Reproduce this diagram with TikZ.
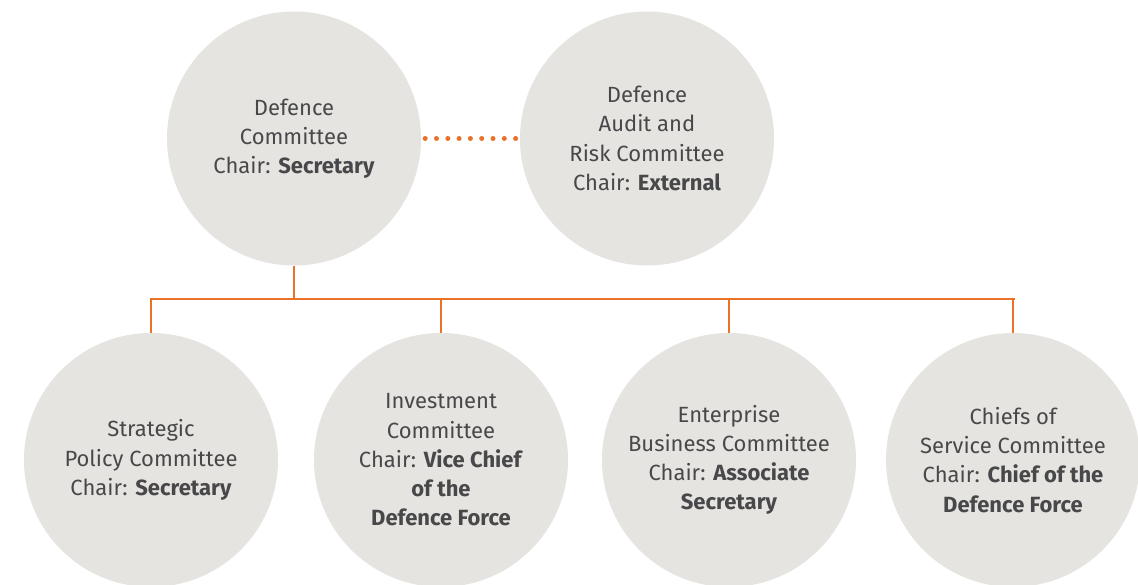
\documentclass[tikz,border=0pt]{standalone}
\usepackage{fontspec}
\setmainfont{Fira Sans}
\definecolor{circfill}{HTML}{E6E4E0}
\definecolor{txtgrey}{HTML}{48484A}
\definecolor{orgline}{HTML}{E9712A}
\tikzset{
  committee/.style={circle, fill=circfill, draw=none, minimum size=254pt, inner sep=0pt,
    text=txtgrey, align=center, font=\fontsize{22}{29.2}\selectfont},
  conn/.style={draw=orgline, line width=2.6pt},
  dotline/.style={draw=orgline, line width=5pt, line cap=round, dash pattern=on 0pt off 11.3pt}
}
\begin{document}
\begin{tikzpicture}[x=1pt,y=1pt]
\useasboundingbox (0,0) rectangle (1138,585);
\node[committee] (dc) at (294,446.5) {Defence\\Committee\\Chair: \textbf{Secretary}};
\node[committee] (dar) at (647,446.5) {Defence\\Audit and\\Risk Committee\\Chair: \textbf{External}};
\node[committee] (spc) at (151,125) {Strategic\\Policy Committee\\Chair: \textbf{Secretary}};
\node[committee] (ic) at (441,125) {Investment\\Committee\\Chair: \textbf{Vice Chief}\\\textbf{of the}\\\textbf{Defence Force}};
\node[committee] (ebc) at (729,125) {Enterprise\\Business Committee\\Chair: \textbf{Associate}\\\textbf{Secretary}};
\node[committee] (csc) at (1013,125) {Chiefs of\\Service Committee\\Chair: \textbf{Chief of the}\\\textbf{Defence Force}};
\coordinate (busL) at (151,286);
\coordinate (busR) at (1014,286);
\draw[dotline] ([xshift=4pt]dc.east) -- ([xshift=-4pt]dar.west);
\draw[conn] (dc.south) -- (dc.south |- busL);
\draw[conn, line cap=rect] (busL) -- (busR);
\draw[conn] (spc.north |- busL) -- (spc.north);
\draw[conn] (ic.north |- busL) -- (ic.north);
\draw[conn] (ebc.north |- busL) -- (ebc.north);
\draw[conn] (csc.north |- busL) -- (csc.north);
\end{tikzpicture}
\end{document}
